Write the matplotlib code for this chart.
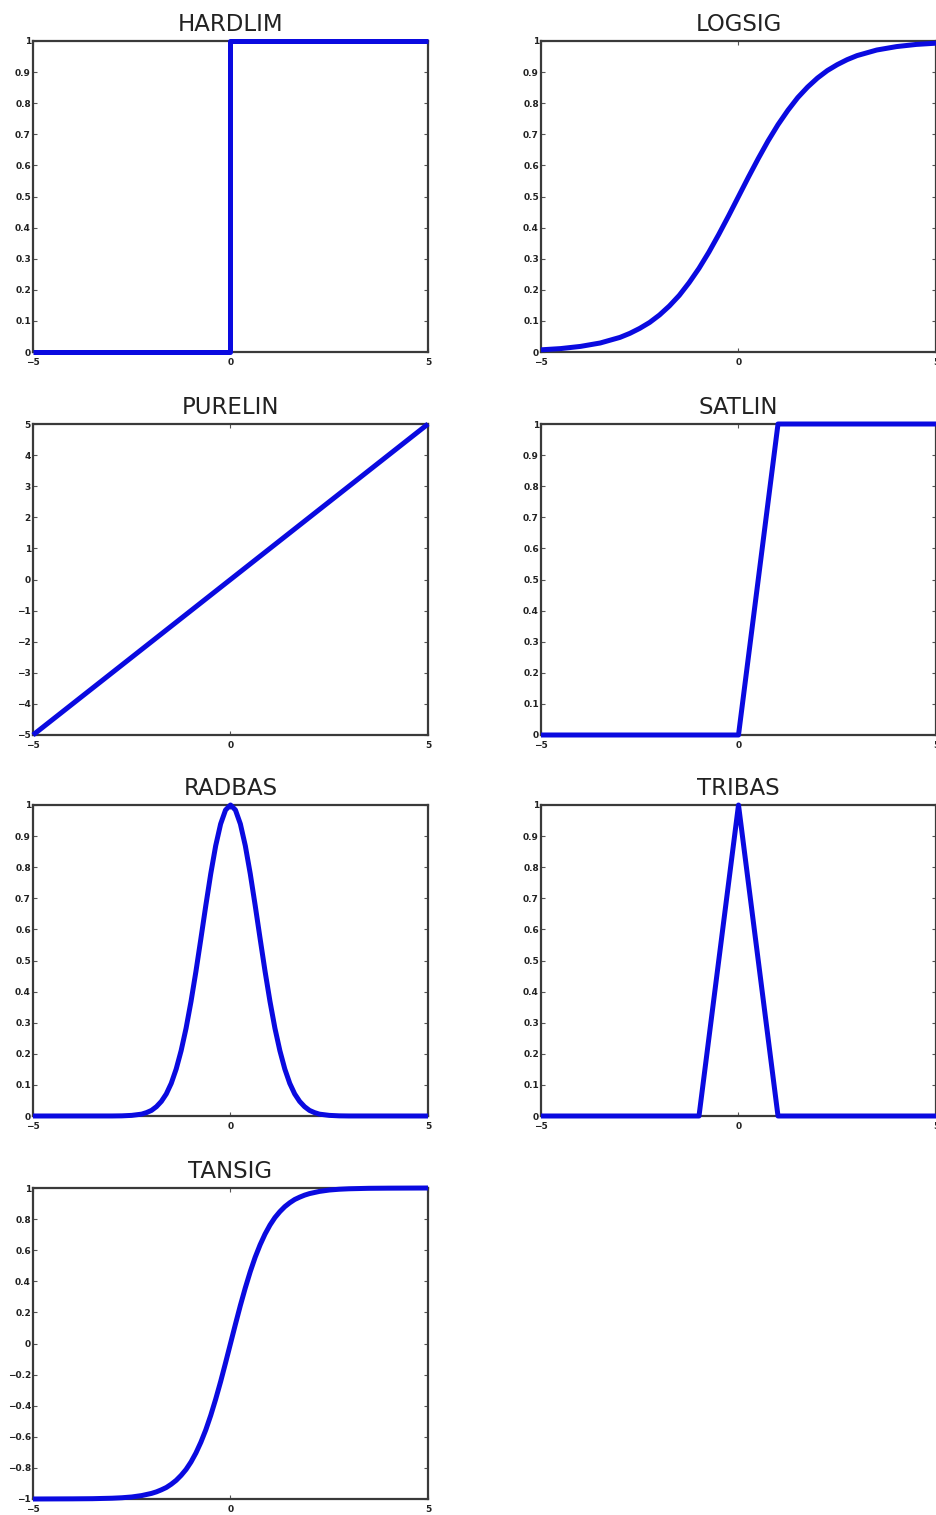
import matplotlib
matplotlib.use("Agg")
import matplotlib.pyplot as plt

# ---- data ----
hardlim_x = [-5, 0, 0, 5]
hardlim_y = [0, 0, 1, 1]

logsig_x = [-5, -4.5, -4, -3.5, -3, -2.75, -2.5, -2.25, -2, -1.75, -1.5, -1.25, -1, -0.75, -0.5, -0.25, 0,
            0.25, 0.5, 0.75, 1, 1.25, 1.5, 1.75, 2, 2.25, 2.5, 2.75, 3, 3.5, 4, 4.5, 5]
logsig_y = [0.007, 0.011, 0.018, 0.029, 0.047, 0.060, 0.076, 0.095, 0.119, 0.148, 0.182, 0.223, 0.269,
            0.321, 0.378, 0.438, 0.5, 0.562, 0.622, 0.679, 0.731, 0.777, 0.818, 0.852, 0.881, 0.905,
            0.924, 0.940, 0.953, 0.971, 0.982, 0.989, 0.993]

purelin_x = [-5, 5]
purelin_y = [-5, 5]

satlin_x = [-5, 0, 1, 5]
satlin_y = [0, 0, 1, 1]

radbas_x = [-5, -3, -2.75, -2.5, -2.375, -2.25, -2.125, -2, -1.875, -1.75, -1.625, -1.5, -1.375, -1.25,
            -1.125, -1, -0.875, -0.75, -0.625, -0.5, -0.375, -0.25, -0.125, 0,
            0.125, 0.25, 0.375, 0.5, 0.625, 0.75, 0.875, 1, 1.125, 1.25, 1.375, 1.5, 1.625, 1.75,
            1.875, 2, 2.125, 2.25, 2.375, 2.5, 2.75, 3, 5]
radbas_y = [0, 0.0001, 0.0005, 0.002, 0.004, 0.006, 0.011, 0.018, 0.030, 0.047, 0.071, 0.105, 0.151,
            0.210, 0.282, 0.368, 0.465, 0.570, 0.677, 0.779, 0.869, 0.939, 0.984, 1.0,
            0.984, 0.939, 0.869, 0.779, 0.677, 0.570, 0.465, 0.368, 0.282, 0.210, 0.151, 0.105,
            0.071, 0.047, 0.030, 0.018, 0.011, 0.006, 0.004, 0.002, 0.0005, 0.0001, 0]

tribas_x = [-5, -1, 0, 1, 5]
tribas_y = [0, 0, 1, 0, 0]

tansig_x = [-5, -4, -3.5, -3, -2.75, -2.5, -2.25, -2, -1.875, -1.75, -1.625, -1.5, -1.375, -1.25,
            -1.125, -1, -0.875, -0.75, -0.625, -0.5, -0.375, -0.25, -0.125, 0,
            0.125, 0.25, 0.375, 0.5, 0.625, 0.75, 0.875, 1, 1.125, 1.25, 1.375, 1.5, 1.625, 1.75,
            1.875, 2, 2.25, 2.5, 2.75, 3, 3.5, 4, 5]
tansig_y = [-1.0, -0.999, -0.998, -0.995, -0.992, -0.987, -0.978, -0.964, -0.954, -0.941, -0.926,
            -0.905, -0.880, -0.848, -0.810, -0.762, -0.704, -0.635, -0.555, -0.462, -0.358, -0.245,
            -0.124, 0, 0.124, 0.245, 0.358, 0.462, 0.555, 0.635, 0.704, 0.762, 0.810, 0.848, 0.880,
            0.905, 0.926, 0.941, 0.954, 0.964, 0.978, 0.987, 0.992, 0.995, 0.998, 0.999, 1.0]

titles = ["HARDLIM", "LOGSIG", "PURELIN", "SATLIN", "RADBAS", "TRIBAS", "TANSIG"]
xs = [hardlim_x, logsig_x, purelin_x, satlin_x, radbas_x, tribas_x, tansig_x]
ys = [hardlim_y, logsig_y, purelin_y, satlin_y, radbas_y, tribas_y, tansig_y]

unit_ticks = [0, 0.1, 0.2, 0.3, 0.4, 0.5, 0.6, 0.7, 0.8, 0.9, 1]
unit_labels = ["0", "0.1", "0.2", "0.3", "0.4", "0.5", "0.6", "0.7", "0.8", "0.9", "1"]
lin_ticks = [-5, -4, -3, -2, -1, 0, 1, 2, 3, 4, 5]
lin_labels = ["\u22125", "\u22124", "\u22123", "\u22122", "\u22121", "0", "1", "2", "3", "4", "5"]
tan_ticks = [-1, -0.8, -0.6, -0.4, -0.2, 0, 0.2, 0.4, 0.6, 0.8, 1]
tan_labels = ["\u22121", "\u22120.8", "\u22120.6", "\u22120.4", "\u22120.2", "0", "0.2", "0.4", "0.6", "0.8", "1"]
x_ticks = [-5, 0, 5]
x_labels = ["\u22125", "0", "5"]

yticks = [unit_ticks, unit_ticks, lin_ticks, unit_ticks, unit_ticks, unit_ticks, tan_ticks]
ylabels = [unit_labels, unit_labels, lin_labels, unit_labels, unit_labels, unit_labels, tan_labels]
ylims = [(0, 1), (0, 1), (-5, 5), (0, 1), (0, 1), (0, 1), (-1, 1)]

W, H = 937, 1515
fig = plt.figure(figsize=(W / 100, H / 100), dpi=100)

col_left = [33, 541]
row_top = [41, 424, 805, 1188]
aw, ah = 395, 311

for i in range(7):
    r, c = divmod(i, 2)
    left = col_left[c] / W
    bottom = 1 - (row_top[r] + ah) / H
    ax = fig.add_axes([left, bottom, aw / W, ah / H])
    ax.plot(xs[i], ys[i], color="#0a0ae0", lw=3.6, solid_joinstyle="round",
            solid_capstyle="butt", clip_on=False, zorder=3)
    ax.set_xlim(-5, 5)
    ax.set_ylim(*ylims[i])
    ax.set_xticks(x_ticks)
    ax.set_xticklabels(x_labels)
    ax.set_yticks(yticks[i])
    ax.set_yticklabels(ylabels[i])
    ax.tick_params(direction="in", length=3, width=0.8, colors="#555555",
                   top=True, right=True, labelsize=6.5, labelcolor="#222222")
    ax.tick_params(axis="x", pad=4)
    ax.tick_params(axis="y", pad=1.5)
    for lab in ax.get_xticklabels() + ax.get_yticklabels():
        lab.set_fontweight("bold")
    for sp in ax.spines.values():
        sp.set_color("#3a3a3a")
        sp.set_linewidth(1.6)
    ax.set_title(titles[i], fontsize=16.5, color="#222222", pad=7, family="DejaVu Sans")

fig.savefig("out.png", dpi=100)
